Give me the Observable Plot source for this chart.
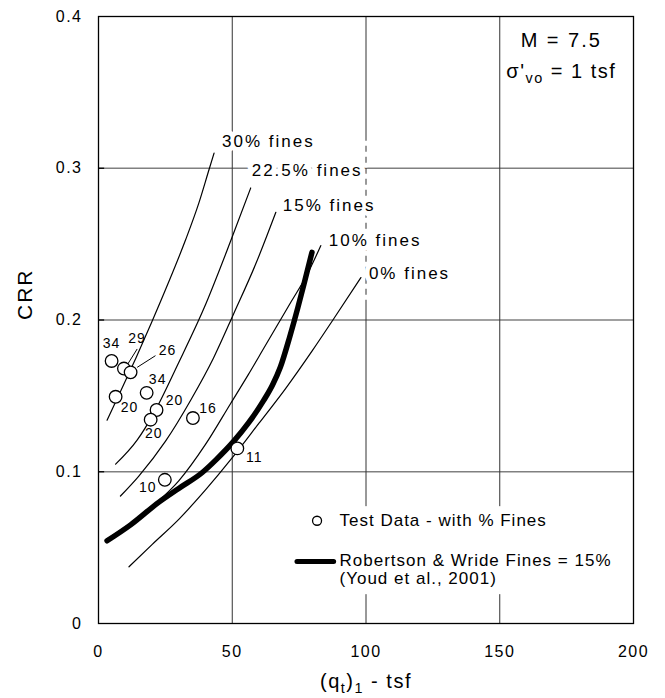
<!DOCTYPE html>
<html><head><meta charset="utf-8">
<script src="https://cdn.jsdelivr.net/npm/d3@7"></script>
<script src="https://cdn.jsdelivr.net/npm/@observablehq/plot@0.6"></script>
<style>
html,body{margin:0;padding:0;background:#fff;}
#chart{width:665px;height:698px;}
</style></head><body><div id="chart"></div>
<script>
// ---- data ----
const curveNames = ["30% fines", "22.5% fines", "15% fines", "10% fines", "0% fines"];
const fines30 = [[3.2,0.134],[8,0.152],[14,0.175],[20,0.199],[26,0.224],[32.6,0.253],[37.5,0.277],[41.3,0.299],[43.2,0.310]];
const fines22_5 = [[6.4,0.105],[14.5,0.121],[20.5,0.138],[30,0.172],[39.5,0.208],[49.4,0.252],[56.9,0.287]];
const fines15 = [[8.2,0.084],[15,0.097],[25,0.120],[34.4,0.147],[43,0.175],[50.5,0.204],[58.8,0.237],[66.3,0.271]];
const fines10 = [[3.5,0.056],[12,0.066],[22,0.080],[30,0.094],[40,0.118],[49.4,0.145],[56,0.164],[62,0.182],[67,0.197],[72,0.212],[78,0.230],[83.1,0.249]];
const fines0 = [[11.4,0.0374],[20,0.052],[30.1,0.0688],[40,0.088],[50.1,0.1094],[60,0.132],[70,0.155],[80,0.180],[88,0.201],[98.1,0.228]];
const robertsonWride = [[3.2,0.0545],[12,0.065],[22.6,0.080],[30,0.089],[38.8,0.0995],[44,0.108],[50.5,0.120],[56,0.132],[61.75,0.147],[65,0.157],[68,0.169],[71.5,0.189],[74.5,0.208],[77,0.225],[79.8,0.2446]];

const pointX = [4.9, 9.5, 12.0, 6.4, 18.0, 21.7, 19.5, 35.3, 51.9, 24.8];
const pointY = [0.173, 0.168, 0.1655, 0.1494, 0.152, 0.1407, 0.1343, 0.1354, 0.1154, 0.0947];
const pointFines = [34, 29, 26, 20, 34, 20, 20, 16, 11, 10];

const xTicks = [0, 50, 100, 150, 200];
const yTicks = [0, 0.1, 0.2, 0.3, 0.4];

const legendTexts = ["Test Data - with % Fines", "Robertson & Wride Fines = 15%", "(Youd et al., 2001)"];

// ---- layout (pixel offsets for annotations) ----
const pointLabelOffsets = [[0,-17],[13,-30],[37,-22],[14,11],[11,-13],[18,-9],[3,14],[15,-10],[17,9],[-17,8]];
const curveLabelOffsets = [[8,-12],[1,-17],[7,-7],[8,-5],[8,-4]];
const leaderLines = [[10.95,0.171,14.46,0.1809],[14.46,0.1688,21.3,0.1765]];

const curves = [fines30, fines22_5, fines15, fines10, fines0];
const points = pointX.map((x, i) => ({x, y: pointY[i], f: pointFines[i]}));

const FONT = '"Liberation Sans", Arial, Helvetica, sans-serif';

const marks = [
  Plot.ruleY([0.1, 0.2, 0.3], {stroke: "#808080", strokeWidth: 1.5}),
  Plot.ruleX([50, 100, 150], {stroke: "#333", strokeWidth: 1}),
  Plot.ruleX([100], {y1: 0.213, y2: 0.318, stroke: "white", strokeWidth: 2.5, strokeDasharray: "5 6"}),
  Plot.ruleY([0.1, 0.2, 0.3], {x1: 0, x2: 2.3, stroke: "#000", strokeWidth: 1.3}),
  Plot.rect([0], {x1: 80, x2: 190, y1: 0.019, y2: 0.077, fill: "white"}),
  ...curves.map(c => Plot.line(c, {x: d => d[0], y: d => d[1], stroke: "#000", strokeWidth: 1.2, curve: "monotone-x"})),
  Plot.line(robertsonWride, {x: d => d[0], y: d => d[1], stroke: "#000", strokeWidth: 5.5, curve: "monotone-x"}),
  Plot.link(leaderLines, {x1: d => d[0], y1: d => d[1], x2: d => d[2], y2: d => d[3], stroke: "#000", strokeWidth: 1}),
  Plot.dot(points, {x: "x", y: "y", r: 6.3, fill: "white", stroke: "#000", strokeWidth: 1.3}),
  ...points.map((p, i) => Plot.text([p], {x: "x", y: "y", text: d => String(d.f), dx: pointLabelOffsets[i][0], dy: pointLabelOffsets[i][1], fontSize: 14, fill: "#000"})),
  ...curves.map((c, i) => Plot.text([c[c.length - 1]], {x: d => d[0], y: d => d[1], text: () => curveNames[i], textAnchor: "start", dx: curveLabelOffsets[i][0], dy: curveLabelOffsets[i][1], fontSize: 17, fill: "#000", stroke: "white", strokeWidth: 10})),
  // legend
  Plot.dot([0], {x: 81.7, y: 0.0677, r: 4.5, fill: "white", stroke: "#000", strokeWidth: 1.3}),
  Plot.text([0], {x: 90.1, y: 0.0677, text: () => legendTexts[0], textAnchor: "start", fontSize: 17, fill: "#000"}),
  Plot.line([[74.2, 0.0409], [87.9, 0.0409]], {x: d => d[0], y: d => d[1], stroke: "#000", strokeWidth: 5}),
  Plot.text([0], {x: 90.1, y: 0.0413, text: () => legendTexts[1], textAnchor: "start", fontSize: 17, fill: "#000"}),
  Plot.text([0], {x: 90.1, y: 0.0295, text: () => legendTexts[2], textAnchor: "start", fontSize: 17, fill: "#000"}),
  // annotation
  Plot.text([0], {x: 173, y: 0.3838, text: () => "M = 7.5", fontSize: 20, fill: "#000"}),
  Plot.text([0], {x: 173, y: 0.364, text: () => "σ'vo = 1 tsf", fontSize: 20, fill: "#000"}),
  Plot.frame({stroke: "#000", strokeWidth: 1.3}),
  Plot.axisX({ticks: xTicks, tickSize: 0, tickPadding: 22, label: null, tickFormat: d => String(d), fontSize: 16}),
  Plot.axisY({ticks: yTicks, tickSize: 0, tickPadding: 16, label: null, tickFormat: d => d === 0 ? "0" : d.toFixed(1), fontSize: 16}),
  Plot.text([0], {frameAnchor: "left", dx: -73, rotate: -90, text: () => "CRR", fontSize: 21, fill: "#000"}),
  Plot.text([0], {frameAnchor: "bottom", dy: 64, text: () => "(qt)1 - tsf", fontSize: 20, fill: "#000"})
];

const chart = Plot.plot({
  width: 665, height: 698,
  marginLeft: 98, marginRight: 32, marginTop: 16, marginBottom: 75,
  x: {domain: [0, 200], label: null},
  y: {domain: [0, 0.4], label: null},
  style: {fontFamily: FONT, fontSize: "16px", color: "#000", background: "#fff", overflow: "visible"},
  marks
});
document.getElementById("chart").appendChild(chart);

// ---- text styling by content ----
const svg = d3.select(chart);
const NS = "http://www.w3.org/2000/svg";
function rich(el, parts) {
  el.textContent = "";
  let shifted = false;
  for (const [t, sub] of parts) {
    const ts = document.createElementNS(NS, "tspan");
    ts.textContent = t;
    if (sub) {
      ts.setAttribute("font-size", "0.72em");
      if (!shifted) { ts.setAttribute("dy", "5"); shifted = true; }
    } else if (shifted) { ts.setAttribute("dy", "-5"); shifted = false; }
    el.appendChild(ts);
  }
}
svg.selectAll('g[aria-label="x-axis tick label"], g[aria-label="y-axis tick label"]').style("letter-spacing", "1.5px").attr("font-size", 16);
svg.selectAll("text").each(function() {
  const t = this.textContent;
  const s = this.style;
  if (curveNames.includes(t)) s.letterSpacing = "2px";
  else if (legendTexts.includes(t)) s.letterSpacing = "1px";
  else if (pointFines.map(String).includes(t) && !this.closest('g[aria-label$="tick label"]')) s.letterSpacing = "1px";
  else if (t === "M = 7.5") s.letterSpacing = "2px";
  else if (t === "CRR") s.letterSpacing = "2px";
  else if (t === "σ'vo = 1 tsf") { s.letterSpacing = "1.5px"; rich(this, [["σ'", 0], ["vo", 1], [" = 1 tsf", 0]]); }
  else if (t === "(qt)1 - tsf") { s.letterSpacing = "1.5px"; rich(this, [["(q", 0], ["t", 1], [")", 0], ["1", 1], [" - tsf", 0]]); }
});
</script>
</body></html>
